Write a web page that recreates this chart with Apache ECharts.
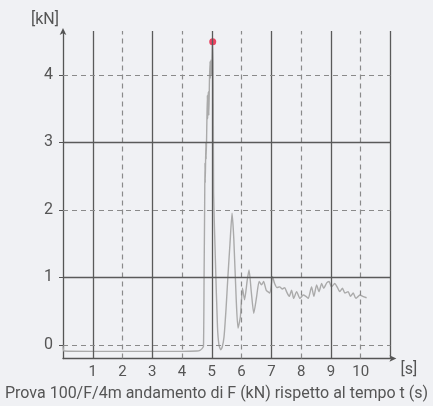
<!DOCTYPE html>
<html><head><meta charset="utf-8">
<script src="https://cdn.jsdelivr.net/npm/echarts@6/dist/echarts.min.js"></script>
<style>html,body{margin:0;padding:0;background:#f0f1f4}#c{width:433px;height:406px}</style>
</head><body><div id="c"></div>
<script>
// time (s)
var times = [0,0.04,1,2,3,4,4.5,4.6,4.68,4.72,4.74,4.76,4.77,4.78,4.80,4.81,4.83,4.85,4.86,4.88,4.90,4.92,4.94,4.95,4.97,4.99,5.01,5.02,5.04,5.05,5.06,5.12,5.19,5.24,5.30,5.35,5.41,5.48,5.54,5.61,5.68,5.74,5.82,5.88,5.96,6.03,6.10,6.19,6.25,6.33,6.41,6.50,6.59,6.67,6.74,6.83,6.95,7.04,7.11,7.19,7.28,7.37,7.45,7.51,7.60,7.68,7.75,7.85,7.96,8.07,8.16,8.24,8.35,8.43,8.52,8.60,8.69,8.76,8.86,8.94,9.02,9.13,9.21,9.30,9.39,9.47,9.58,9.66,9.75,9.84,9.92,9.98,10.07,10.20];
// force F (kN)
var forces = [-0.02,-0.09,-0.095,-0.095,-0.095,-0.095,-0.09,-0.08,-0.05,-0.02,1.0,2.1,2.7,2.4,3.0,2.75,3.2,3.7,3.35,3.75,3.4,3.9,4.2,3.95,4.22,4.0,4.3,4.49,4.2,3.5,2.25,1.26,0.27,0.0,-0.07,-0.03,0.12,0.55,1.01,1.5,1.95,1.56,0.67,0.25,0.42,0.84,0.67,0.96,1.11,0.77,0.47,0.70,0.94,0.89,0.94,0.81,0.77,1.01,0.91,0.85,0.86,0.83,0.85,0.79,0.72,0.81,0.69,0.79,0.69,0.74,0.72,0.69,0.86,0.72,0.89,0.79,0.91,0.84,0.92,0.94,0.86,0.91,0.86,0.79,0.84,0.77,0.79,0.72,0.77,0.69,0.72,0.74,0.72,0.70];
// peak marker
var peakTime = [5.03];
var peakForce = [4.49];
// tick labels
var xTicks = [1,2,3,4,5,6,7,8,9,10,11];
var yTicks = [0,1,2,3,4];

var lineData = times.map(function(t,i){return [t, forces[i]];});
var peakData = peakTime.map(function(t,i){return [t, peakForce[i]];});

var solid = {color:'#5a5a5a', width:1.3, type:'solid'};
var dashed = {color:'#8a8a8a', width:1.2, type:[5,4]};
var mk = [];
xTicks.forEach(function(v){ mk.push({xAxis:v, lineStyle:(v%2===1?solid:dashed)}); });
yTicks.forEach(function(v){ mk.push({yAxis:v, lineStyle:(v%2===1?solid:dashed)}); });

var txt = {fontFamily:'Roboto', color:'#555'};
var chart = echarts.init(document.getElementById('c'));
chart.setOption({
  backgroundColor:'#f0f1f4',
  animation:false,
  title:{text:'Prova 100/F/4m andamento di F (kN) rispetto al tempo t (s)', left:'center', top:381,
    textStyle:{fontFamily:'Roboto', fontSize:16, fontWeight:'normal', color:'#555'}},
  grid:{left:63, right:42.6, top:31, bottom:47.5},
  xAxis:{type:'value', min:0, max:11, interval:1,
    name:'[s]', nameLocation:'end', nameGap:10,
    nameTextStyle:Object.assign({fontSize:16, align:'left', verticalAlign:'top', padding:[3,0,0,0]}, txt),
    axisLine:{show:true, onZero:false, lineStyle:{color:'#555', width:1.3}, symbol:['none','arrow'], symbolSize:[5,7], symbolOffset:[0,6]},
    axisTick:{show:false}, splitLine:{show:false},
    axisLabel:Object.assign({fontSize:15, margin:6, formatter:function(v){return (v>=1&&v<=10)?String(v):'';}}, txt)},
  yAxis:{type:'value', min:-0.2, max:4.65,
    name:'[kN]', nameLocation:'end', nameGap:11,
    nameTextStyle:Object.assign({fontSize:16, align:'right', verticalAlign:'middle', padding:[0,4,0,0]}, txt),
    axisLine:{show:true, onZero:false, lineStyle:{color:'#555', width:1.3}, symbol:['none','arrow'], symbolSize:[5,7], symbolOffset:[0,3]},
    axisTick:{show:true, length:4, customValues:yTicks, lineStyle:{color:'#555'}},
    splitLine:{show:false},
    axisLabel:Object.assign({fontSize:16, margin:10, customValues:yTicks}, txt)},
  series:[
    {type:'line', data:[], silent:true, markLine:{silent:true, symbol:'none', label:{show:false}, data:mk, animation:false}},
    {type:'line', data:lineData, showSymbol:false, smooth:0.2, lineStyle:{color:'#aaaaaa', width:1.4}, z:3},
    {type:'scatter', data:peakData, symbolSize:7, itemStyle:{color:'#e8193c'}, z:4}
  ]
});
</script></body></html>
